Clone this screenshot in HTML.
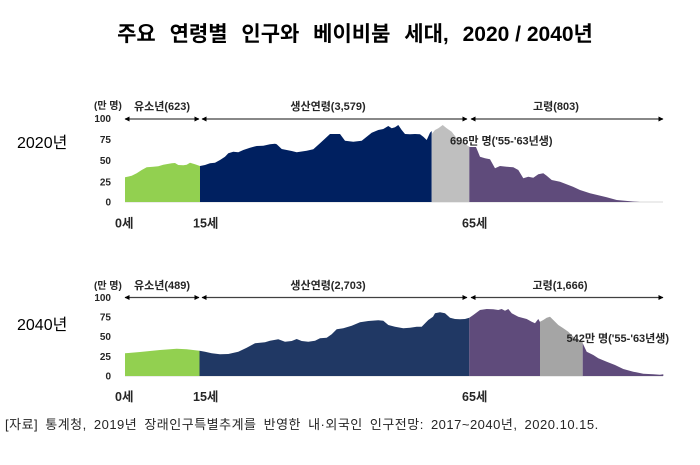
<!DOCTYPE html>
<html><head><meta charset="utf-8"><style>
html,body{margin:0;padding:0;background:#fff;}
svg{display:block;}
text{font-family:"Liberation Sans","Noto Sans CJK KR",sans-serif;}
</style></head><body>
<svg width="700" height="465" viewBox="0 0 700 465" xmlns="http://www.w3.org/2000/svg">
<defs>
<marker id="ah" viewBox="0 0 10 10" refX="9" refY="5" markerWidth="5" markerHeight="5" orient="auto-start-reverse" markerUnits="userSpaceOnUse"><path d="M0,0 L10,5 L0,10 z" fill="#000"/></marker>
</defs>
<text x="355" y="41" text-anchor="middle" font-size="21" font-weight="bold" fill="#000"><tspan word-spacing="8">주요 연령별 인구와 베이비붐 세대, </tspan><tspan word-spacing="0">2020 / 2040년</tspan></text>

<!-- ===== 2020 ===== -->
<text x="17" y="148" font-size="16" fill="#000">2020년</text>
<g font-size="10" font-weight="bold" fill="#262626" text-anchor="end">
<text x="111" y="122">100</text><text x="111" y="143">75</text><text x="111" y="164">50</text><text x="111" y="185.5">25</text><text x="111" y="205.5">0</text>
</g>
<text x="94" y="109" font-size="10" font-weight="bold" fill="#262626">(만 명)</text>
<g font-size="11" font-weight="bold" fill="#262626" text-anchor="middle">
<text x="162" y="110">유소년(623)</text>
<text x="328" y="110">생산연령(3,579)</text>
<text x="556" y="110">고령(803)</text>
</g>
<g stroke="#404040" stroke-width="1.2">
<line x1="125" y1="119" x2="199" y2="119" marker-start="url(#ah)" marker-end="url(#ah)"/>
<line x1="202" y1="119" x2="467" y2="119" marker-start="url(#ah)" marker-end="url(#ah)"/>
<line x1="471" y1="119" x2="663" y2="119" marker-start="url(#ah)" marker-end="url(#ah)"/>
</g>
<line x1="125" y1="202" x2="663" y2="202" stroke="#d9d9d9" stroke-width="1"/>
<path fill="#92d050" d="M125,202 L125,177.3 131.7,175.7 136.7,173.3 141.7,170 146.7,167.3 153.3,166.7 158.3,166.3 163.3,164.7 171.7,163.3 175,163 178.3,165 183.3,165.3 186.7,164.7 190,162.7 195,164.3 200,166 L200,202Z"/>
<path fill="#002060" d="M200,202 L200,166 205,165 210,163.3 215,162.7 220,160 225,156.7 228.3,153.3 233.3,151.7 238.3,152.3 243.3,150 250,147.7 256.7,146 263.3,145.7 270,144.3 275,143.7 276.7,144.3 281.7,149 286.7,150 291.7,151 296.7,152.3 301.7,151.5 306.7,150.7 313.3,149.3 320,143.3 330,134 340,134 345,140.7 353.3,141.7 361.7,140.7 371.7,132.7 378.3,130 383.3,129 388.3,126 391.7,128.3 395,127.3 398.3,125 401.7,130 405,134 410,134.3 415,134 420,134.3 423.3,136.7 426.7,140 430,132.7 431.7,131 L431.7,202Z"/>
<path fill="#bfbfbf" d="M431.7,202 L431.7,134 435,130 438.3,128.3 442.7,125 446.7,128.3 451.7,131.7 456.7,138.3 461.7,141.7 466.7,145 469.3,146.7 L469.3,202Z"/>
<path fill="#5f4b7b" d="M469.3,202 L469.3,147 476,147 480,156.7 485,158.3 490,159.3 495,168.3 500,166 506.7,166.7 513.3,167.3 518.3,170 523.3,178.3 528.3,176.7 533.3,177.7 538.3,174.3 543.3,173.3 546.7,175.7 551.7,180 560,181.7 573,186.7 580,190 590,193.3 606.7,197.3 616.7,200 633,201.5 640,202Z"/>
<text x="450" y="144.5" font-size="11" font-weight="bold" fill="#262626">696만 명('55-'63년생)</text>
<g font-size="12.5" font-weight="bold" fill="#262626">
<text x="115" y="227.5">0세</text><text x="193" y="227.5">15세</text><text x="462" y="227.5">65세</text>
</g>

<!-- ===== 2040 ===== -->
<text x="17" y="330" font-size="16" fill="#000">2040년</text>
<g font-size="10" font-weight="bold" fill="#262626" text-anchor="end">
<text x="111" y="301">100</text><text x="111" y="320.5">75</text><text x="111" y="340">50</text><text x="111" y="360">25</text><text x="111" y="379.5">0</text>
</g>
<text x="94" y="289" font-size="10" font-weight="bold" fill="#262626">(만 명)</text>
<g font-size="11" font-weight="bold" fill="#262626" text-anchor="middle">
<text x="162" y="289">유소년(489)</text>
<text x="328" y="289">생산연령(2,703)</text>
<text x="560" y="289">고령(1,666)</text>
</g>
<g stroke="#404040" stroke-width="1.2">
<line x1="125" y1="297.5" x2="199" y2="297.5" marker-start="url(#ah)" marker-end="url(#ah)"/>
<line x1="202" y1="297.5" x2="467" y2="297.5" marker-start="url(#ah)" marker-end="url(#ah)"/>
<line x1="471" y1="297.5" x2="663" y2="297.5" marker-start="url(#ah)" marker-end="url(#ah)"/>
</g>
<line x1="125" y1="376" x2="663" y2="376" stroke="#d9d9d9" stroke-width="1"/>
<path fill="#92d050" d="M125,376 L125,353.3 140,352 160,350 176.7,348.7 186.7,349.3 199.5,350.7 L199.5,376Z"/>
<path fill="#203864" d="M199.5,376 L199.5,350.7 205,351.7 211.7,353.3 220,354.3 228.3,354 238.3,351.7 246.7,347.7 255,343.3 265,342.3 270,340.7 278.3,339.3 285,341.7 291.7,341 296.7,339 301.7,341 308.3,341.7 315,340.7 320,338.3 326.7,337.7 331.7,334.3 336.7,329.3 343.3,328.3 351.7,325.7 360,322.3 368.3,321 378.3,320.3 383.3,320.7 388.3,325 395,326.7 403.3,328.3 410,327.7 416.7,326.7 421.7,326.7 428.3,320 433,316.7 435,313.3 440,312.3 445,313.3 450,317.7 455,319 460,319.3 465,319 469.3,317.7 L469.3,376Z"/>
<path fill="#5f4b7b" d="M469.3,376 L469.3,317.7 473.3,315 480,310 486.7,309 493.3,309.3 498.3,310 501.7,309 505,310.7 508.3,309 511.7,313.3 518.3,316.7 526.7,319 531.7,321.7 535,323.3 536.7,321 538.3,319 540,322 L540,376Z"/>
<path fill="#a5a5a5" d="M540,376 L540,321.7 543.3,320 546.7,317.7 550,316.7 553.3,320 558.3,325 563.3,328.3 568.3,331.7 573.3,336.7 578.3,340 582.7,341.7 L582.7,376Z"/>
<path fill="#5f4b7b" d="M582.7,376 L582.7,343.3 586.7,351.7 593.3,355 598.3,358.3 606.7,361.7 615,365 623.3,369 633.3,371.7 643.3,373.7 653.3,374.3 660,374.7 663.3,374.3 663.3,376Z"/>
<text x="566.5" y="342" font-size="11" font-weight="bold" fill="#262626">542만 명('55-'63년생)</text>
<g font-size="12.5" font-weight="bold" fill="#262626">
<text x="115" y="401">0세</text><text x="193" y="401">15세</text><text x="462" y="401">65세</text>
</g>

<text x="5" y="429" font-size="13" fill="#262626" word-spacing="3" letter-spacing="0.5">[자료] 통계청, 2019년 장래인구특별추계를 반영한 내·외국인 인구전망: 2017~2040년, 2020.10.15.</text>
</svg>
</body></html>
